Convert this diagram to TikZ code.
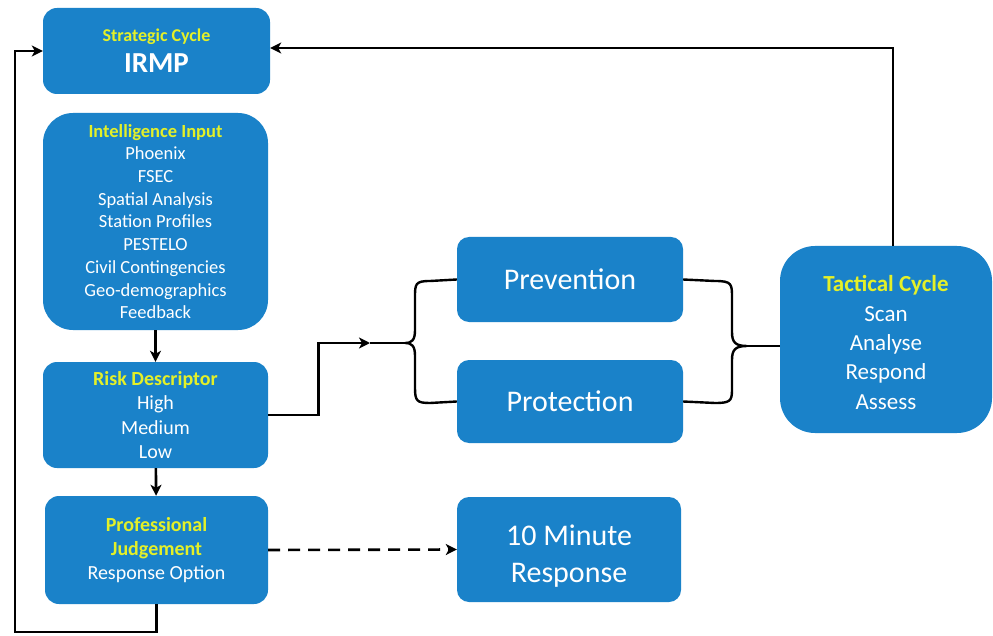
\documentclass[tikz,border=0pt]{standalone}
\usepackage{fontspec}
\setmainfont{Carlito}
\definecolor{BoxBlue}{RGB}{26,130,201}
\definecolor{TitleYellow}{RGB}{228,240,40}
\usetikzlibrary{arrows.meta, calc}
\newcommand{\boxtitle}[1]{{\color{TitleYellow}\bfseries #1}}

\begin{document}
\begin{tikzpicture}[
    x=1pt, y=-1pt,
    box/.style={fill=BoxBlue, text=white, align=center, inner sep=0pt, rounded corners=#1},
    box/.default=14pt,
    link/.style={line width=2.6pt, -{Stealth[length=11pt, width=11pt, inset=3pt]}},
    brace/.style={line width=2.4pt}
]
\useasboundingbox (0,0) rectangle (993,636);
% Left column
\node[box, minimum width=227pt, minimum height=86pt] (irmp) at (156.5,51)
    {\fontsize{18}{24}\selectfont\boxtitle{Strategic Cycle}\\[8pt]
     \fontsize{29}{30}\selectfont\bfseries IRMP};
\node[box=30pt, minimum width=225pt, minimum height=217pt, font=\fontsize{18.5}{22.7}\selectfont] (intel) at (155.5,221.5)
    {\boxtitle{Intelligence Input}\\ Phoenix\\ FSEC\\ Spatial Analysis\\ Station Profiles\\
     PESTELO\\ Civil Contingencies\\ Geo-demographics\\ Feedback};
\node[box, minimum width=225pt, minimum height=106pt, font=\fontsize{20}{24.5}\selectfont] (risk) at (155.5,415)
    {\boxtitle{Risk Descriptor}\\ High\\ Medium\\ Low};
\node[box, minimum width=223pt, minimum height=108pt, font=\fontsize{20}{24}\selectfont] (judge) at (156.5,550)
    {\boxtitle{Professional}\\ \boxtitle{Judgement}\\ Response Option};
% Middle column
\node[box=12pt, minimum width=226pt, minimum height=85pt, font=\fontsize{30}{36}\selectfont] (prev) at (570,279.5) {Prevention};
\node[box=12pt, minimum width=226pt, minimum height=83pt, font=\fontsize{30}{36}\selectfont] (prot) at (570,401.5) {Protection};
\node[box=12pt, minimum width=224pt, minimum height=105pt, font=\fontsize{30}{37}\selectfont] (tenmin) at (569,549.5)
    {\rule{0pt}{33pt}10 Minute\\ Response};
% Right
\node[box=35pt, minimum width=212pt, minimum height=187pt, font=\fontsize{23}{29.3}\selectfont] (tact) at (886,339.5)
    {\rule{0pt}{22pt}\boxtitle{Tactical Cycle}\\ Scan\\ Analyse\\ Respond\\ Assess};

\coordinate (lin) at (370,343);
\coordinate (lbr) at (405,343);
\coordinate (rbr) at (747,346);
\coordinate (loop) at (15,632);

% Flow down the left column
\draw[link] (intel) -- (risk);
\draw[link] (risk) -- (judge);
\draw[link] (judge.south) |- (loop) |- (irmp.west);
\draw[link, line width=2pt] ($(tact.north)+(7,0)$) |- ($(irmp.east)+(0,-3)$);
% Into the braces
\draw[link] (risk.east) -- ++(50,0) |- (lin);
\draw[brace] (lin) -- (lbr);
\draw[brace] (prev.west) -- (430,281) .. controls (415,281) and (415,284) .. (415,298) -- (415,330)
    .. controls (415,340) and (412,343) .. (lbr)
    .. controls (412,343) and (415,346) .. (415,356) -- (415,388)
    .. controls (415,401) and (417,403) .. (430,403) -- (prot.west);
\draw[brace] (prev.east) -- (715,281) .. controls (732,281) and (732,284) .. (732,298) -- (732,332)
    .. controls (732,342) and (735,346) .. (rbr)
    .. controls (735,346) and (732,350) .. (732,360) -- (732,390)
    .. controls (732,401) and (730,403) .. (715,403) -- (prot.east);
\draw[brace] (rbr) -- (tact.west |- rbr);
% Dashed link
\draw[link, dash pattern=on 12pt off 8pt] (judge.east) -- (tenmin.west);
\end{tikzpicture}
\end{document}
